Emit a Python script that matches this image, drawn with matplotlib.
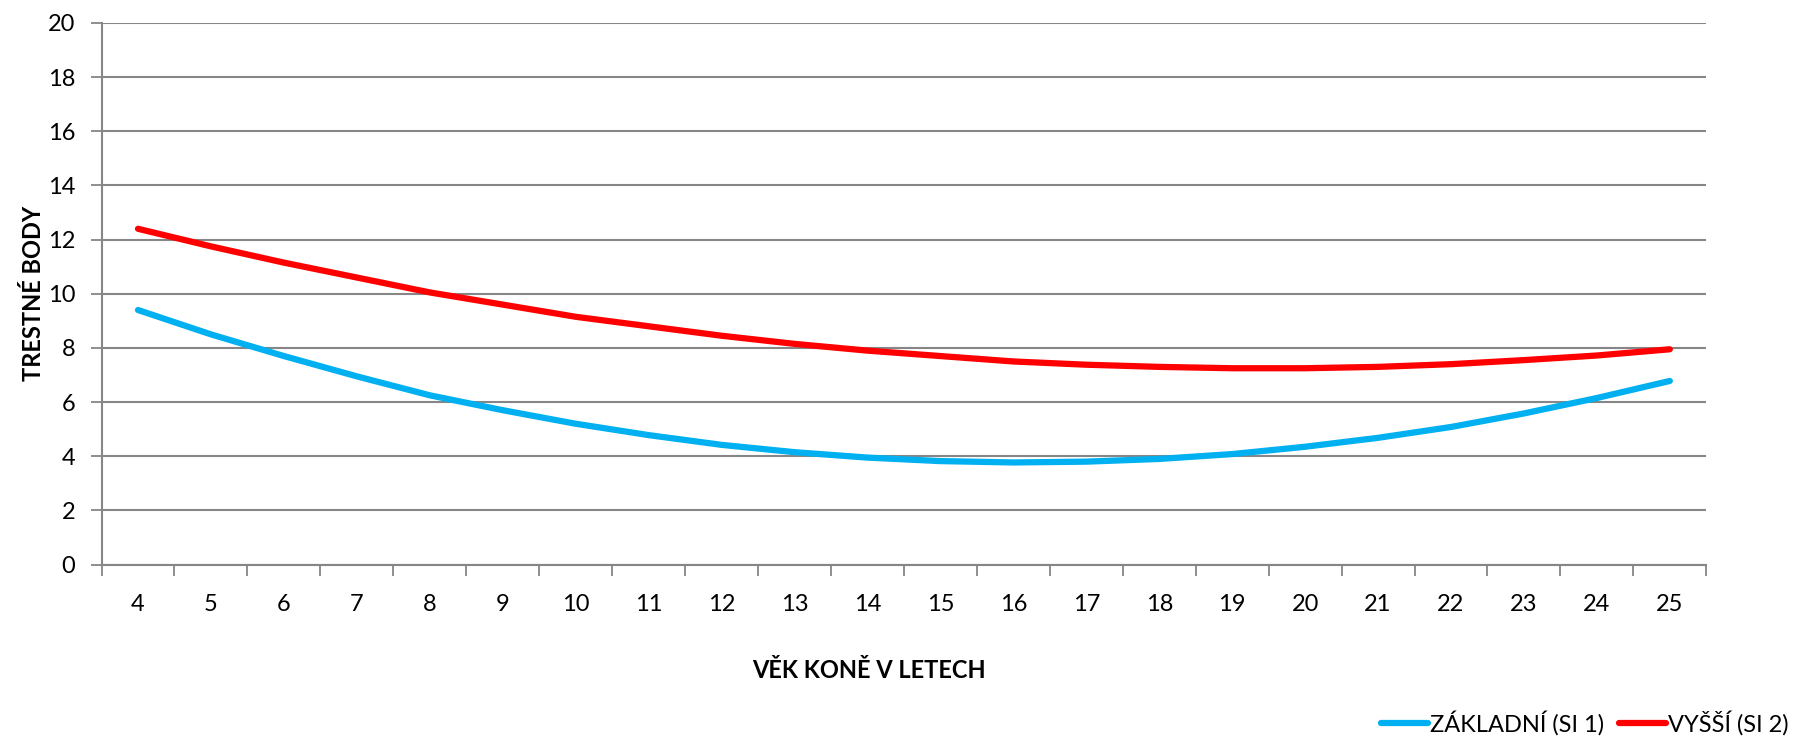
import matplotlib.pyplot as plt
import numpy as np

plt.rcParams["font.family"] = ["Lato", "DejaVu Sans"]

ages = list(range(4, 26))
zakladni = [9.4, 8.5, 7.7, 6.95, 6.25, 5.7, 5.2, 4.78, 4.42, 4.15, 3.95,
            3.82, 3.77, 3.8, 3.9, 4.08, 4.35, 4.68, 5.08, 5.58, 6.15, 6.78]
vyssi = [12.4, 11.75, 11.15, 10.6, 10.05, 9.6, 9.15, 8.8, 8.45, 8.15, 7.9,
         7.7, 7.5, 7.38, 7.3, 7.25, 7.25, 7.3, 7.4, 7.55, 7.72, 7.95]
y_ticks = list(range(0, 21, 2))

grid_col = "#868686"

fig = plt.figure(figsize=(18.1, 7.37), dpi=100)
ax = fig.add_axes([0.0561, 0.234, 0.8866, 0.7348])

x = np.arange(len(ages))
ax.plot(x, zakladni, color="#00B0F0", lw=4.5, solid_capstyle="round",
        label="ZÁKLADNÍ (SI 1)", zorder=3)
ax.plot(x, vyssi, color="#FF0000", lw=4.5, solid_capstyle="round",
        label="VYŠŠÍ (SI 2)", zorder=3)

ax.set_xlim(-0.5, len(ages) - 0.5)
ax.set_ylim(0, 20)
ax.set_yticks(y_ticks)
ax.set_yticklabels([str(v) for v in y_ticks], fontsize=17)
ax.set_xticks(x)
ax.set_xticklabels([str(a) for a in ages], fontsize=17)
ax.set_xticks(np.arange(-0.5, len(ages), 1), minor=True)
ax.tick_params(axis="x", which="major", length=0, pad=21)
ax.tick_params(axis="x", which="minor", length=8, color=grid_col, width=1.3)
ax.tick_params(axis="y", length=8, color=grid_col, width=1.3, pad=11)

ax.grid(axis="y", color=grid_col, lw=1.5, zorder=0)
for s in ["top", "right"]:
    ax.spines[s].set_visible(False)
for s in ["left", "bottom"]:
    ax.spines[s].set_color(grid_col)
    ax.spines[s].set_linewidth(1.5)

ax.set_ylabel("TRESTNÉ BODY", fontsize=17, fontweight="bold", labelpad=2)
fig.text(0.48, 0.09, "VĚK KONĚ V LETECH", fontsize=17, fontweight="bold",
         ha="center", va="center")

fig.legend(loc="lower right", bbox_to_anchor=(1.0, -0.027), ncol=2, frameon=False,
           fontsize=17, handlelength=2.0, handletextpad=0.1, columnspacing=0.6)

fig.savefig("out.png", dpi=100, facecolor="white")
